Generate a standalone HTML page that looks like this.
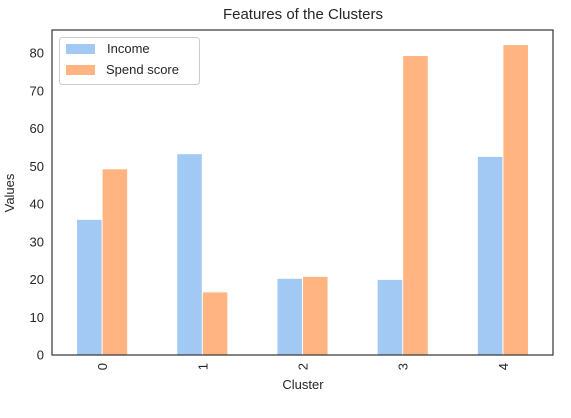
<!DOCTYPE html>
<html><head><meta charset="utf-8"><style>
body{margin:0;background:#fff;}
svg{display:block;font-family:"Liberation Sans",sans-serif;}
</style></head><body>
<svg id="chart" width="571" height="418">
<text x="303" y="19" text-anchor="middle" font-size="15" fill="#262626">Features of the Clusters</text>
<g id="bars"></g>
<g id="axes"></g>
<text x="303" y="389" text-anchor="middle" font-size="13" fill="#262626">Cluster</text>
<text transform="translate(14,193) rotate(-90)" text-anchor="middle" font-size="13" fill="#262626">Values</text>
<g>
<rect x="59.5" y="37.5" width="140" height="47" rx="3" fill="#fff" stroke="#ccc"/>
<rect x="66" y="44" width="29" height="10" fill="#a1c9f4"/>
<text x="107" y="53" font-size="13" fill="#262626">Income</text>
<rect x="66" y="65" width="29" height="10" fill="#ffb482"/>
<text x="106" y="74" font-size="13" fill="#262626">Spend score</text>
</g>
</svg>
<script>
const categories = ["0","1","2","3","4"];
const income = [35.8, 53.2, 20.2, 19.9, 52.5];
const spend = [49.2, 16.6, 20.7, 79.2, 82.1];
const yTicks = [0,10,20,30,40,50,60,70,80];
const L=52,R=553,T=30,B=355,YMAX=86.1;
const ns="http://www.w3.org/2000/svg";
const band=(R-L)/categories.length;
const x=i=>L+band*(i+0.5);
const y=v=>B-(v/YMAX)*(B-T);
const bars=document.getElementById('bars'), axes=document.getElementById('axes');
function mk(tag,attrs,parent){const e=document.createElementNS(ns,tag);for(const k in attrs)e.setAttribute(k,attrs[k]);parent.appendChild(e);return e;}
const bw=band*0.25;
categories.forEach((c,i)=>{
  const a=mk('rect',{x:x(i)-bw,y:y(income[i]),width:bw-0.5,height:B-y(income[i]),fill:'#a1c9f4'},bars);
  
  
  const b=mk('rect',{x:x(i)+0.5,y:y(spend[i]),width:bw-0.5,height:B-y(spend[i]),fill:'#ffb482'},bars);
  
  
  const t=mk('text',{x:0,y:0,transform:`translate(${x(i)+5},${B+8}) rotate(-90)`,'text-anchor':'end','font-size':13,fill:'#262626'},axes);
  t.textContent=c;
  
  
});
yTicks.forEach(v=>{
  const t=mk('text',{x:L-8,y:y(v)+4.5,'text-anchor':'end','font-size':13,fill:'#262626'},axes);
  t.textContent=v;
  
  
});
const f=mk('rect',{x:L,y:T,width:R-L,height:B-T,fill:'none',stroke:'#333','stroke-width':1.2},axes);


</script>
</body></html>
